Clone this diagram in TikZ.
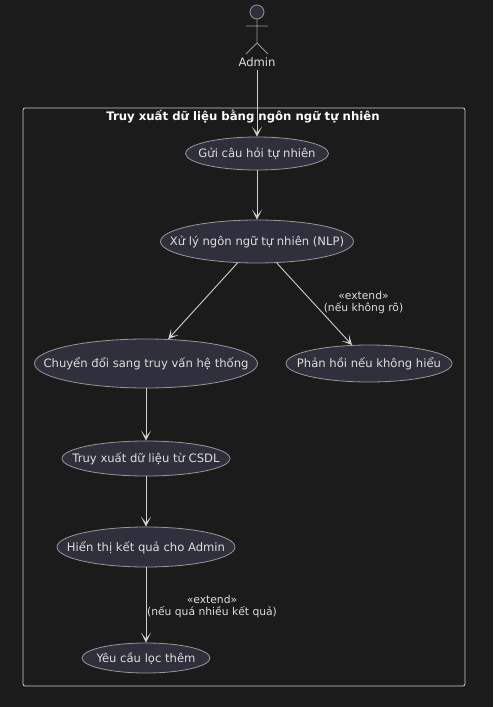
\documentclass[tikz,border=0pt]{standalone}
\usepackage{fontspec}
\setmainfont{DejaVu Sans}
\usetikzlibrary{arrows.meta,shapes.geometric}
\definecolor{bgc}{HTML}{1B1B1B}
\definecolor{ufill}{HTML}{30303C}
\definecolor{ustroke}{HTML}{989898}
\definecolor{txt}{HTML}{DEDEDE}
\definecolor{edge}{HTML}{D0D0D0}
\tikzset{
  uc/.style={ellipse,draw=ustroke,fill=ufill,line width=0.8pt,inner sep=0pt},
  uctext/.style={text=txt,font=\fontsize{11.6}{14}\selectfont,inner sep=0pt,yshift=-0.5pt},
  lbl/.style={text=txt,font=\fontsize{10.75}{12.8}\selectfont,inner sep=0pt,align=center},
  conn/.style={draw=edge,line width=0.9pt,-{Stealth[length=10pt,width=10pt,inset=6pt]}},
  stick/.style={draw=ustroke,line width=0.8pt},
}
\begin{document}
\begin{tikzpicture}[x=1pt,y=-1pt]
\useasboundingbox (0,0) rectangle (493,707);
\fill[bgc] (0,0) rectangle (493,707);
\node[draw=edge,line width=0.8pt,rounded corners=2pt,minimum width=442pt,minimum height=578pt,inner sep=0pt] (frame) at (244,397) {};
\node[text=white,font=\bfseries\fontsize{11.7}{14}\selectfont,inner sep=0pt] (title) at (243,117) {Truy xuất dữ liệu bằng ngôn ngữ tự nhiên};
% actor
\node[circle,draw=ustroke,fill=ufill,line width=0.8pt,minimum size=14pt,inner sep=0pt] (head) at (257,12) {};
\coordinate (hip) at (257,43);
\coordinate (arml) at (246,26);
\coordinate (armr) at (268,26);
\coordinate (legl) at (246,54);
\coordinate (legr) at (268,54);
\draw[stick] (head.south) -- (hip) (arml) -- (armr) (legl) -- (hip) -- (legr);
\node[uctext,minimum height=14pt] (admin) at (257,62) {Admin};
% use cases
\node[uc,minimum width=143pt,minimum height=33pt,label={[uctext]center:Gửi câu hỏi tự nhiên}] (send) at (257,153.5) {};
\node[uc,minimum width=193pt,minimum height=43pt,label={[uctext]center:Xử lý ngôn ngữ tự nhiên (NLP)}] (nlp) at (257,241.5) {};
\node[uc,minimum width=223pt,minimum height=49pt,label={[uctext]center:Chuyển đổi sang truy vấn hệ thống}] (conv) at (146,363.5) {};
\node[uc,minimum width=166pt,minimum height=37pt,label={[uctext]center:Phản hồi nếu không hiểu}] (resp) at (369,363.5) {};
\node[uc,minimum width=168pt,minimum height=35pt,label={[uctext]center:Truy xuất dữ liệu từ CSDL}] (fetch) at (146,458.5) {};
\node[uc,minimum width=178pt,minimum height=40pt,label={[uctext]center:Hiển thị kết quả cho Admin}] (show) at (146,547) {};
\node[uc,minimum width=128pt,minimum height=30pt,label={[uctext]center:Yêu cầu lọc thêm}] (filt) at (146,658) {};
% connectors
\draw[conn] (admin) -- (send);
\draw[conn] (send) -- (nlp);
\draw[conn] (nlp) -- (conv);
\draw[conn] (nlp) -- (resp);
\draw[conn] (conv) -- (fetch);
\draw[conn] (fetch) -- (show);
\draw[conn] (show) -- (filt);
% labels
\node[lbl] (l1) at (363.5,302.5) {«extend»\\(nếu không rõ)};
\node[lbl] (l2) at (212,606.5) {«extend»\\(nếu quá nhiều kết quả)};
\end{tikzpicture}
\end{document}
